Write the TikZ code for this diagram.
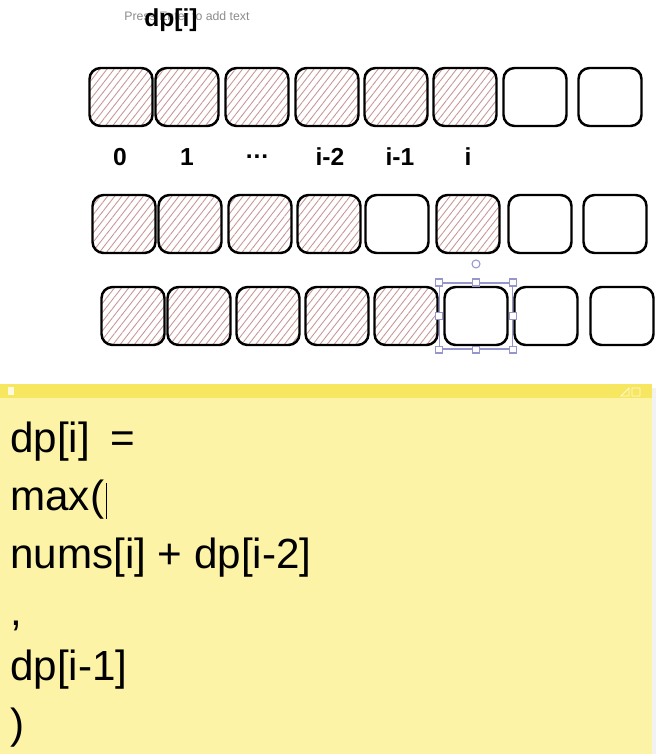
\documentclass[tikz,border=0pt]{standalone}
\usepackage{fontspec}
\setmainfont{Liberation Sans}
\usetikzlibrary{patterns.meta, positioning}

\definecolor{hatchred}{RGB}{200,150,150}
\definecolor{notebody}{RGB}{252,243,166}
\definecolor{notebar}{RGB}{247,230,95}
\definecolor{selblue}{RGB}{150,150,205}
\definecolor{hintgray}{RGB}{140,140,140}

\begin{document}
\begin{tikzpicture}[x=0.02cm, y=-0.02cm,
      cell/.style={rectangle, draw, line width=1.4pt, rounded corners=0.22cm, minimum width=1.26cm, minimum height=1.16cm},
      done/.style={cell, pattern={Lines[angle=52, distance=3.2pt, line width=0.5pt]}, pattern color=hatchred},
      idx/.style={font=\fontsize{14}{16}\selectfont\bfseries},
      handle/.style={rectangle, draw=selblue, fill=white, line width=0.6pt, minimum size=0.14cm, inner sep=0pt},
      code/.style={anchor=base west, inner sep=0pt, font=\fontsize{24}{28}\selectfont}]

      \useasboundingbox (0,0) rectangle (660,754);

      % Title
      \node[font=\fontsize{7}{8}\selectfont, text=hintgray] (hint) at (187,16) {Press Enter to add text};
      \node[font=\fontsize{14}{16}\selectfont\bfseries] (title) at (171,20) {dp[i]};

      % Row 1: dp filled up to i
      \foreach \x/\k in {121/1, 187/2, 257/3, 327/4, 396/5, 465/6} {
        \node[done] (a\k) at (\x,97) {};
      }
      \foreach \x/\k in {535/7, 610/8} {
        \node[cell] (a\k) at (\x,97) {};
      }

      % Indices
      \foreach \x/\t/\k in {120/0/0, 187/1/1, 257/{.\kern0.5pt.\kern0.5pt.}/2, 330/i-2/3, 400/i-1/4, 468/i/5} {
        \node[idx] (l\k) at (\x,157) {\t};
      }

      % Row 2: take i, skip i-1
      \foreach \x/\k in {124/1, 190/2, 260/3, 329/4, 468/6} {
        \node[done] (b\k) at (\x,224) {};
      }
      \foreach \x/\k in {397/5, 540/7, 615/8} {
        \node[cell] (b\k) at (\x,224) {};
      }

      % Row 3: skip i
      \foreach \x/\k in {133/1, 199/2, 268/3, 337/4, 406/5} {
        \node[done] (c\k) at (\x,316) {};
      }
      \foreach \x/\k in {476/6, 546/7, 622/8} {
        \node[cell] (c\k) at (\x,316) {};
      }

      % Selection frame
      \node[draw=selblue, line width=0.6pt, minimum width=1.46cm, minimum height=1.32cm] (sel) at (c6) {};
      \foreach \a in {north west, north, north east, east, south east, south, south west, west} {
        \node[handle] at (sel.\a) {};
      }
      \node[circle, draw=selblue, fill=white, line width=0.6pt, minimum size=0.16cm, inner sep=0pt, above=0.28cm of sel.north] (rot) {};

      % Sticky note
      \fill[black!5] (652,388) rectangle (656,754);
      \fill[notebody] (0,398) rectangle (652,754);
      \fill[notebar] (0,384) rectangle (652,398);
      \fill[white!80!notebar] (8,387) rectangle (14,395);
      \draw[white!75!notebar, line width=0.5pt] (621,396) -- (629,388) -- (629,396) -- cycle (632,388) rectangle (640,396);

      \node[code] (eq1) at (10,452) {dp[i]\hspace{0.4cm}=};
      \node[code] (eq2) at (10,510) {max(};
      \node[code] (eq3) at (10,568) {nums[i] + dp[i-2]};
      \node[code] (eq4) at (10,625) {,};
      \node[code] (eq5) at (10,680) {dp[i-1]};
      \node[code] (eq6) at (10,738) {)};

      % Caret
      \draw[line width=0.6pt] ([xshift=1pt, yshift=-5pt]eq2.base east) -- ++(0,0.72cm);
    \end{tikzpicture}
\end{document}
